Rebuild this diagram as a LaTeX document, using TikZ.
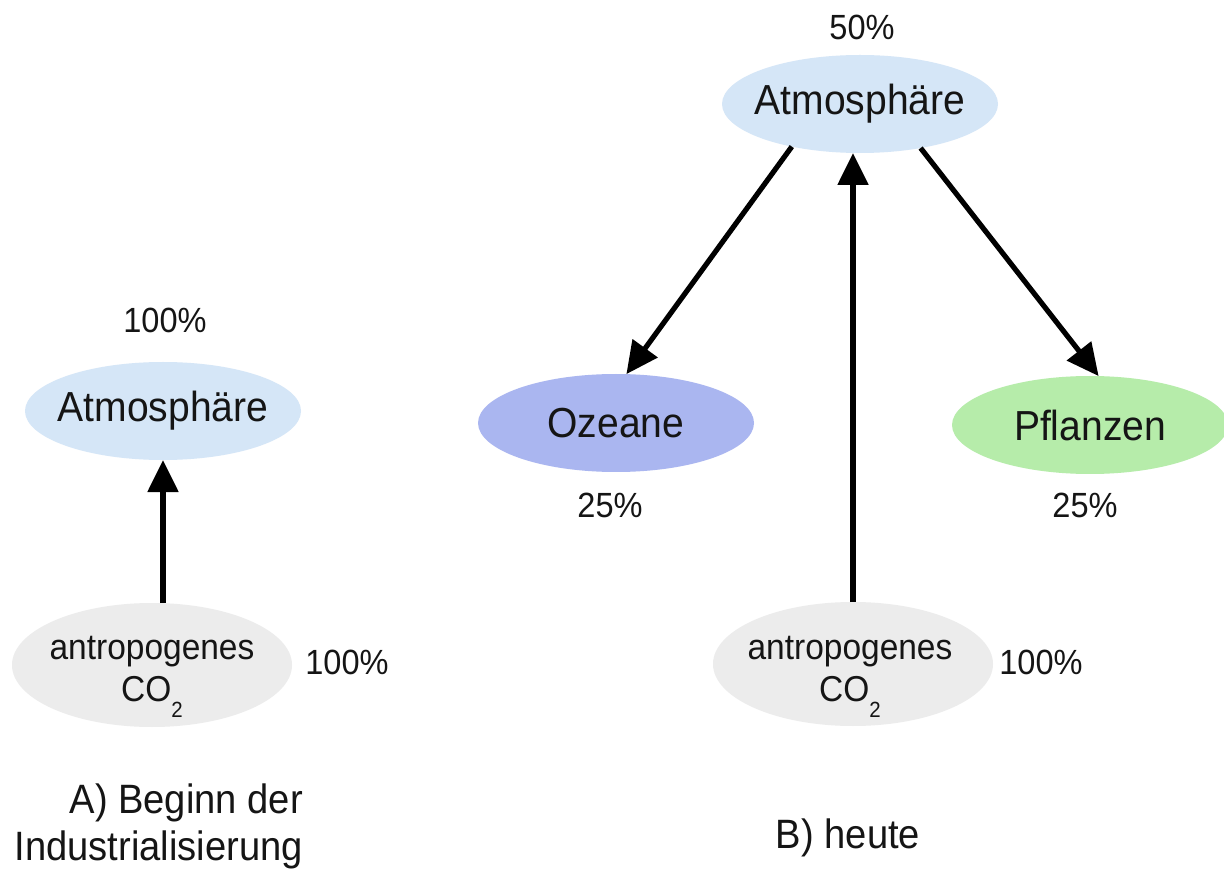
\documentclass[tikz,border=0pt]{standalone}
\usepackage{fontspec}
\setmainfont{Liberation Sans}[FakeStretch=0.93]
\usetikzlibrary{arrows.meta,shapes.geometric}
\definecolor{atmfill}{HTML}{D5E6F7}
\definecolor{ozefill}{HTML}{AAB6F0}
\definecolor{pflfill}{HTML}{B6ECAA}
\definecolor{co2fill}{HTML}{ECECEC}
\definecolor{ink}{HTML}{151515}
\tikzset{
  blob/.style={ellipse, inner sep=0pt, outer sep=0pt, draw=none, text=ink,
    minimum width=276pt, minimum height=98pt, font=\fontsize{42}{48}\selectfont},
  srcblob/.style={ellipse, inner sep=0pt, outer sep=0pt, draw=none, fill=co2fill,
    minimum width=280pt, minimum height=124pt},
  srctext/.style={inner sep=0pt, align=center, text=ink, font=\fontsize{36}{42}\selectfont},
  pct/.style={inner sep=0pt, text=ink, font=\fontsize{35}{40}\selectfont},
  caption/.style={inner sep=0pt, text=ink, font=\fontsize{41}{47}\selectfont},
  flow/.style={line width=5.2pt, draw=black, -{Triangle[length=32pt,width=30pt]}}
}
\newcommand{\cotwo}{CO\raisebox{-16pt}{\fontsize{22}{22}\selectfont 2}}
\begin{document}
\begin{tikzpicture}[x=1pt,y=-1pt]
\useasboundingbox[fill=white] (0,0) rectangle (1224,874);

% ---------- A) left panel ----------
\node[blob, fill=atmfill] (atma) at (163,411) {\makebox[0pt]{Atmosph\"are}};
\node[pct] (pctatma) at (165,320) {100\%};
\node[srcblob] (co2a) at (152,665) {};
\node[srctext] (co2atxt) at (152,677) {antropogenes\\\cotwo};
\node[pct] (pctco2a) at (347,662) {100\%};
\draw[flow] (co2a.north -| atma) -- (atma.south);
\node[caption, align=right, anchor=north east] (capa) at (303,784)
  {A) Beginn der\\Industrialisierung};

% ---------- B) right panel ----------
\node[blob, fill=atmfill] (atmb) at (860,104) {\makebox[0pt]{Atmosph\"are}};
\node[pct] (pctatmb) at (862,27) {50\%};
\node[blob, fill=ozefill] (oze) at (616,423) {\makebox[0pt]{Ozeane}};
\node[pct] (pctoze) at (610,505) {25\%};
\node[blob, fill=pflfill] (pfl) at (1090,425) {\makebox[0pt]{Pflanzen}};
\node[pct] (pctpfl) at (1085,505) {25\%};
\node[srcblob] (co2b) at (853,664) {};
\node[srctext] (co2btxt) at (850,677) {antropogenes\\\cotwo};
\node[pct] (pctco2b) at (1041,662) {100\%};
\draw[flow] (co2b.north) -- (co2b.north |- atmb.south);
\draw[flow] (atmb.212) -- (oze.78);
\draw[flow] (atmb.324) -- (pfl.80);
\node[caption, anchor=base] (capb) at (848,848) {B) heute};
\end{tikzpicture}
\end{document}
